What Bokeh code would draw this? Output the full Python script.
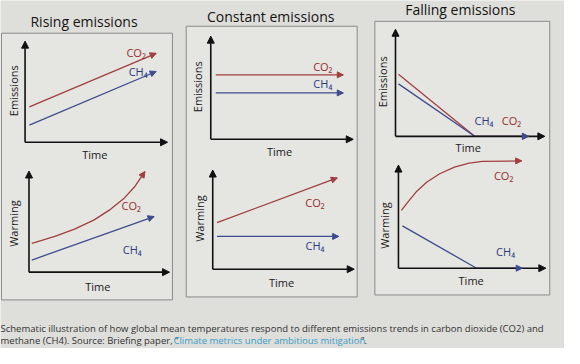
import numpy as np
from bokeh.plotting import figure
from bokeh.models import Range1d, Arrow, NormalHead
from bokeh.core.properties import value
from bokeh.embed import file_html
from bokeh.resources import INLINE

# ---------------- data (schematic units: time 0-10, quantity 0-10) ----------------
titles = ["Rising emissions", "Constant emissions", "Falling emissions"]

rise_em_t = [0.3, 9.2]
rise_em_co2 = [3.5, 8.8]
rise_em_ch4 = [1.7, 7.0]
rise_warm_co2_t = [0.2, 0.44, 1.84, 3.24, 4.64, 5.8, 6.73, 7.55, 8.25]
rise_warm_co2 = [2.85, 2.94, 3.53, 4.25, 5.17, 6.21, 7.25, 8.5, 9.95]
rise_warm_ch4_t = [0.2, 8.9]
rise_warm_ch4 = [1.2, 5.5]

const_em_t = [0.35, 9.3]
const_em_co2 = [6.25, 6.25]
const_em_ch4 = [4.5, 4.5]
const_warm_co2_t = [0.3, 8.8]
const_warm_co2 = [4.7, 9.2]
const_warm_ch4_t = [0.3, 8.9]
const_warm_ch4 = [3.3, 3.3]

fall_em_t = [0.2, 5.3, 8.9]
fall_em_co2 = [5.8, 0.0, 0.0]
fall_em_ch4 = [4.9, 0.0, 0.0]
fall_warm_co2_t = [0.2, 0.69, 1.25, 1.91, 2.8, 3.8, 4.8, 5.69, 8.36]
fall_warm_co2 = [5.6, 6.5, 7.47, 8.33, 9.16, 9.81, 10.19, 10.35, 10.41]
fall_warm_ch4_t = [0.27, 5.3, 8.4]
fall_warm_ch4 = [4.1, 0.0, 0.0]

caption_1 = ("Schematic illustration of how global mean temperatures respond to different "
             "emissions trends in carbon dioxide (CO2) and")
caption_2a = "methane (CH4). Source: Briefing paper, \u201c"
caption_link = "Climate metrics under ambitious mitigation"
caption_2b = "\u201d."

# ---------------- styling / layout ----------------
CO2_LINE, CH4_LINE = "#a13f3f", "#3e4b8c"
CO2_TXT, CH4_TXT = "#932f2f", "#2c3a7e"
BG, BOX_FILL, BOX_LINE = "#dededa", "#e5e5e2", "#8a8a8a"
FONT = value("Open Sans")

X0, X1 = 3, 577      # visible window (reference pixel columns)
Y0, Y1 = 357, 6      # bottom, top (reference pixel rows)

# panel axes: origin x, origin y, x-arrow end, y-arrow top
geom = {
    "r_em": (28, 149, 173, 47),
    "r_wa": (32, 280, 175, 178),
    "c_em": (217, 146, 362, 42),
    "c_wa": (219, 277, 363, 177),
    "f_em": (405, 143, 557, 35),
    "f_wa": (408, 276, 558, 172),
}

panels = [
    ("r_em", [(rise_em_t, rise_em_co2, CO2_LINE), (rise_em_t, rise_em_ch4, CH4_LINE)]),
    ("r_wa", [(rise_warm_co2_t, rise_warm_co2, CO2_LINE), (rise_warm_ch4_t, rise_warm_ch4, CH4_LINE)]),
    ("c_em", [(const_em_t, const_em_co2, CO2_LINE), (const_em_t, const_em_ch4, CH4_LINE)]),
    ("c_wa", [(const_warm_co2_t, const_warm_co2, CO2_LINE), (const_warm_ch4_t, const_warm_ch4, CH4_LINE)]),
    ("f_em", [(fall_em_t, fall_em_co2, CO2_LINE), (fall_em_t, fall_em_ch4, CH4_LINE)]),
    ("f_wa", [(fall_warm_co2_t, fall_warm_co2, CO2_LINE), (fall_warm_ch4_t, fall_warm_ch4, CH4_LINE)]),
]

p = figure(width=564, height=348, x_range=Range1d(X0, X1), y_range=Range1d(Y0, Y1),
           output_backend="svg", toolbar_location=None, min_border=0,
           x_axis_location=None, y_axis_location=None)
p.grid.visible = False
p.outline_line_color = None
p.background_fill_color = BG
p.border_fill_color = BG

xr, yr = {}, {}
for key, (ox, oy, xe, yt) in geom.items():
    sx = (xe - ox) / 10.0
    sy = (oy - yt) / 10.0
    xr[key] = Range1d((X0 - ox) / sx, (X1 - ox) / sx)
    yr[key] = Range1d((oy - Y0) / sy, (oy - Y1) / sy)
p.extra_x_ranges = xr
p.extra_y_ranges = yr

# column boxes
p.quad(left=[4, 192, 384], right=[178, 366, 562], top=[39, 32, 27], bottom=[308, 305, 303],
       fill_color=BOX_FILL, line_color=BOX_LINE, line_width=1)

# titles
p.text(x=[88, 278, 471], y=[27, 22, 15], text=titles, text_font=FONT, text_font_size="14px",
       text_align="center", text_baseline="middle", text_color="#141414")

for key, series in panels:
    # axes with arrowheads
    for (xs, ys, xe_, ye_) in [(0, 0, 10, 0), (0, 0, 0, 10)]:
        p.add_layout(Arrow(end=NormalHead(size=7, fill_color="#111111", line_color="#111111"),
                           x_start=xs, y_start=ys, x_end=xe_, y_end=ye_,
                           x_range_name=key, y_range_name=key,
                           line_color="#111111", line_width=1.6))
    for t, v, col in series:
        p.line(t, v, x_range_name=key, y_range_name=key, line_color=col, line_width=1.3,
               line_join="round")
        p.add_layout(Arrow(end=NormalHead(size=6, fill_color=col, line_color=col),
                           x_start=t[-2], y_start=v[-2], x_end=t[-1], y_end=v[-1],
                           x_range_name=key, y_range_name=key, line_alpha=0))

# axis labels
p.text(x=[99, 102, 287, 289, 479, 482], y=[161, 294, 158, 290, 154, 288], text=["Time"] * 6,
       text_font=FONT, text_font_size="11px", text_align="center", text_baseline="middle",
       text_color="#1a1a1a")
p.text(x=[16, 16, 204, 206, 392, 394], y=[97, 231, 93, 226, 88, 233],
       text=["Emissions", "Warming", "Emissions", "Warming", "Emissions", "Warming"],
       angle=np.pi / 2, text_font=FONT, text_font_size="11px", text_align="center",
       text_baseline="middle", text_color="#1a1a1a")

# series labels
p.text(x=[141, 136, 331, 323, 523, 515], y=[58, 213, 73, 210, 127, 183], text=["CO\u2082"] * 6,
       text_font=FONT, text_font_size="11px", text_align="center", text_baseline="middle",
       text_color=CO2_TXT)
p.text(x=[143, 137, 331, 323, 495, 517], y=[78, 257, 90, 253, 127, 259], text=["CH\u2084"] * 6,
       text_font=FONT, text_font_size="11px", text_align="center", text_baseline="middle",
       text_color=CH4_TXT)

# caption
p.text(x=[3, 3, 370], y=[337, 349, 349], text=[caption_1, caption_2a, caption_2b],
       text_font=FONT, text_font_size="9.5px", text_align="left", text_baseline="middle",
       text_color="#333333")
p.text(x=[179], y=[349], text=[caption_link], text_font=FONT, text_font_size="9.5px",
       text_align="left", text_baseline="middle", text_color="#3a9cc6")

open("out.html", "w").write(file_html(p, INLINE))
